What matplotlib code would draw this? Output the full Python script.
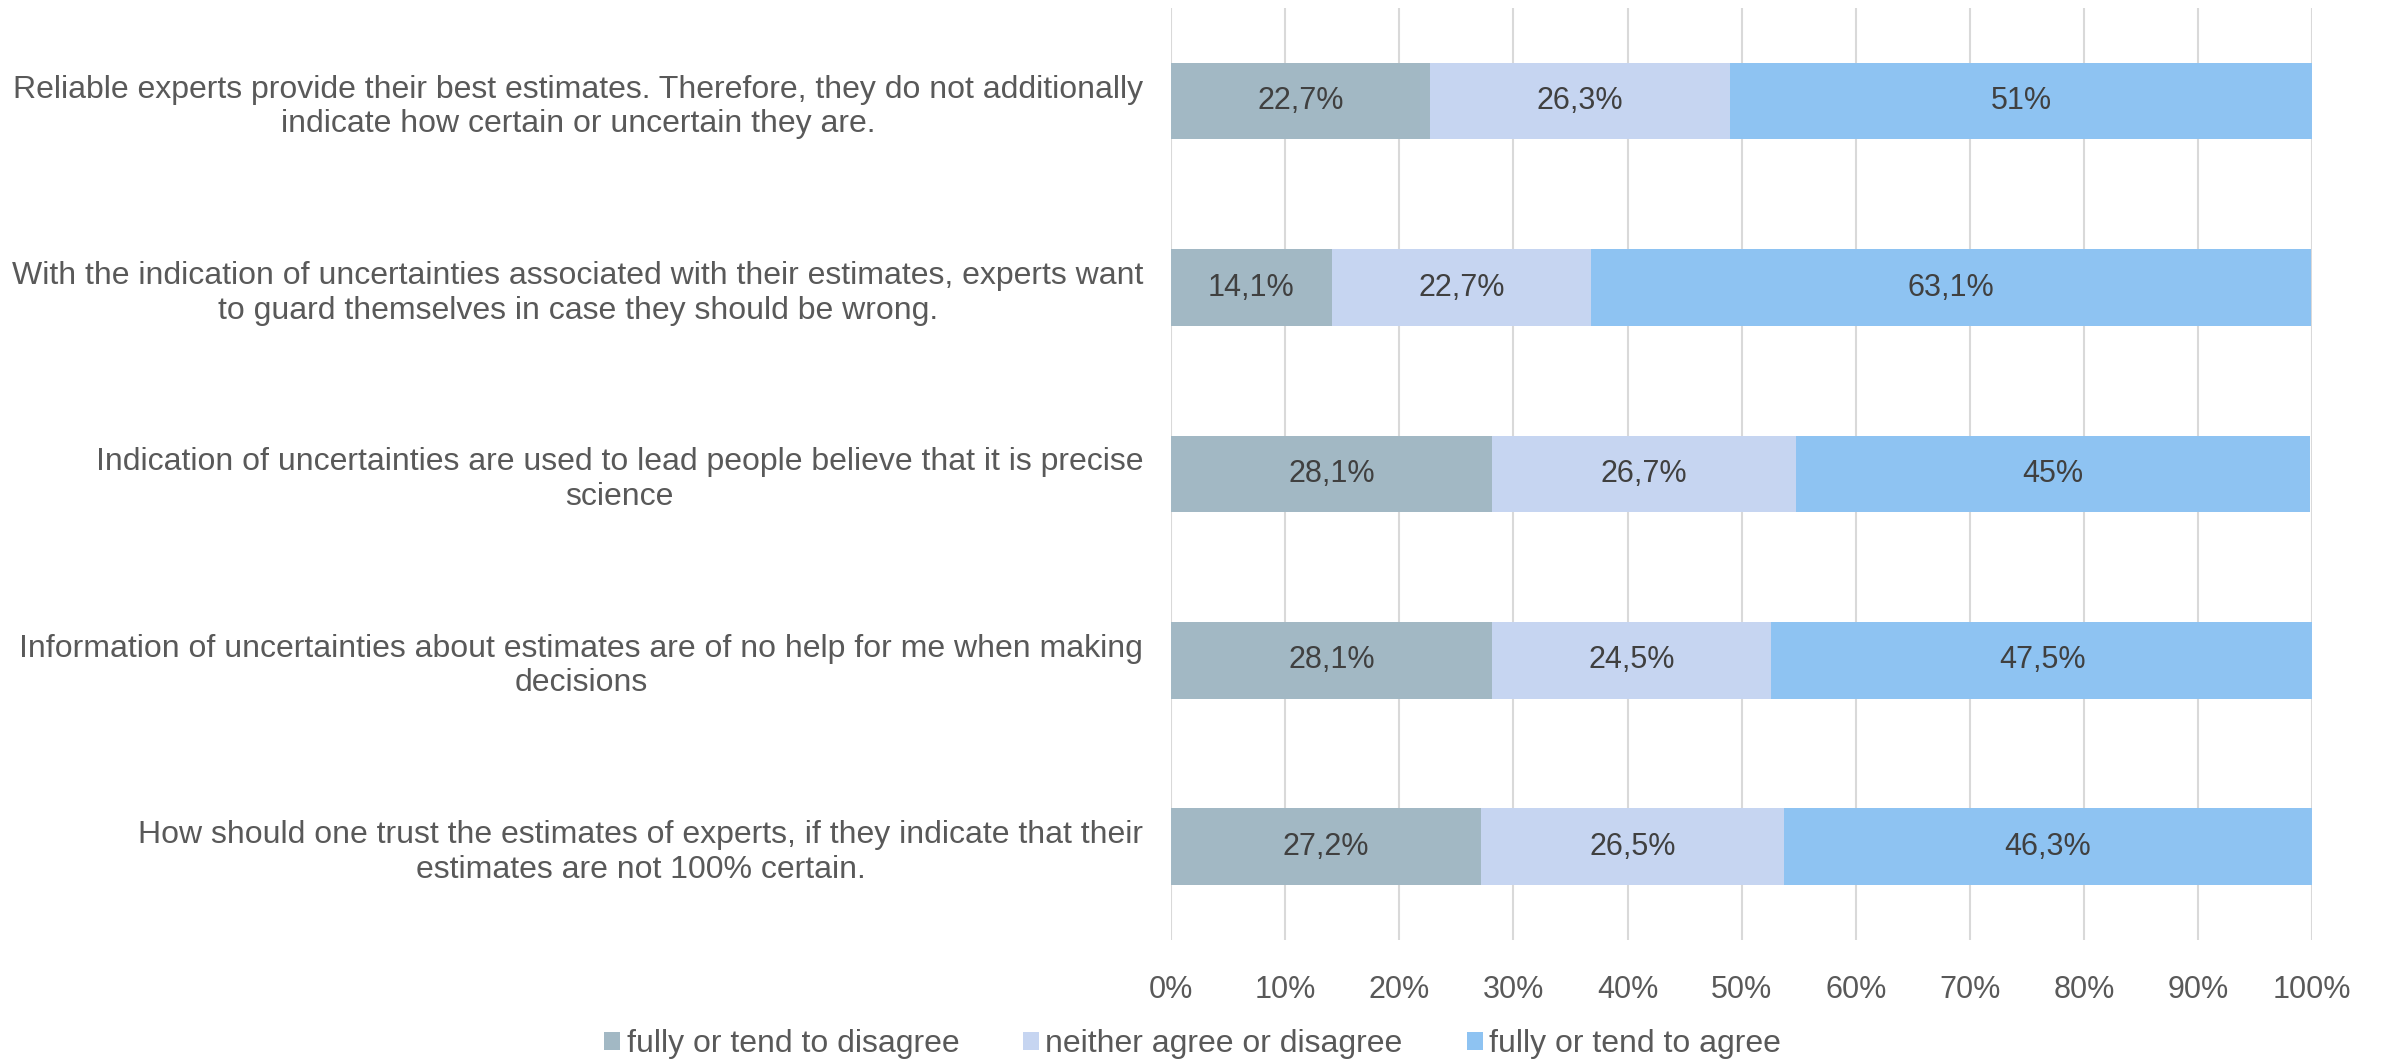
import numpy as np
import matplotlib.pyplot as plt
from matplotlib.patches import Patch

plt.rcParams['font.family'] = ['Liberation Sans Narrow', 'Liberation Sans', 'DejaVu Sans']

statements = [
    "Reliable experts provide their best estimates. Therefore, they do not additionally\nindicate how certain or uncertain they are.",
    "With the indication of uncertainties associated with their estimates, experts want\nto guard themselves in case they should be wrong.",
    "Indication of uncertainties are used to lead people believe that it is precise\nscience",
    "Information of uncertainties about estimates are of no help for me when making\ndecisions",
    "How should one trust the estimates of experts, if they indicate that their\nestimates are not 100% certain.",
]
disagree = [22.7, 14.1, 28.1, 28.1, 27.2]
neutral = [26.3, 22.7, 26.7, 24.5, 26.5]
agree = [51.0, 63.1, 45.0, 47.5, 46.3]
series_names = ['fully or tend to disagree', 'neither agree or disagree', 'fully or tend to agree']
colors = ['#A2B8C4', '#C6D5F1', '#8EC3F2']

text_col = '#404040'
tick_col = '#595959'


def fmt(v):
    s = ('%.1f' % v).rstrip('0').rstrip('.')
    return s.replace('.', ',') + '%'


fig = plt.figure(figsize=(23.85, 10.62), dpi=100)
ax = fig.add_axes([0.491, 0.115, 0.4785, 0.8775])

y = np.arange(len(statements))
left = np.zeros(len(statements))
for vals, col in zip([disagree, neutral, agree], colors):
    vals = np.array(vals)
    ax.barh(y, vals, left=left, height=0.41, color=col, zorder=3)
    for yi, l, v in zip(y, left, vals):
        ax.text(l + v / 2, yi, fmt(v), ha='center', va='center',
                fontsize=22, color=text_col, zorder=4)
    left += vals

ax.set_xlim(0, 100)
ax.set_ylim(len(statements) - 0.5, -0.5)
ax.set_xticks(np.arange(0, 101, 10))
ax.set_xticklabels(['%d%%' % t for t in range(0, 101, 10)])
ax.set_yticks(y)
ax.set_yticklabels(statements)
for t in ax.get_yticklabels():
    t.set_multialignment('center')
    t.set_fontsize(23)
ax.tick_params(axis='both', length=0, labelcolor=tick_col)
ax.tick_params(axis='x', pad=25, labelsize=22)
ax.tick_params(axis='y', pad=20)
ax.grid(axis='x', color='#D9D9D9', linewidth=1.5, zorder=0)
for s in ax.spines.values():
    s.set_visible(False)

handles = [Patch(facecolor=c, label=n) for c, n in zip(colors, series_names)]
fig.legend(handles=handles, loc='center', bbox_to_anchor=(0.5, 0.017), ncol=3,
           frameon=False, fontsize=23, labelcolor=tick_col,
           handlelength=0.5, handleheight=0.5, handletextpad=0.2, columnspacing=2.0)

fig.savefig('out.png', dpi=100, facecolor='white')
